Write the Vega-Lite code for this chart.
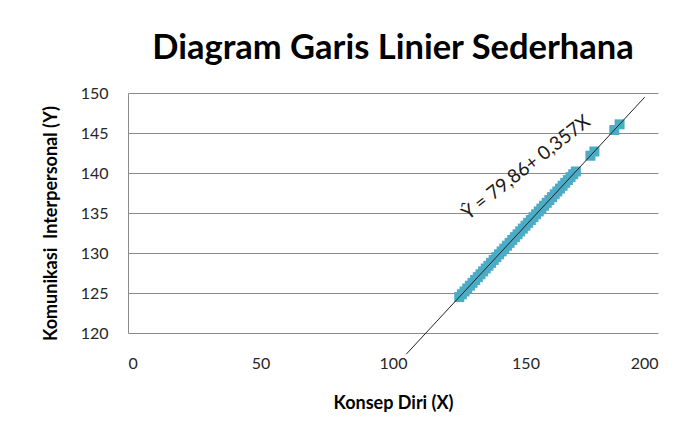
{
  "$schema": "https://vega.github.io/schema/vega-lite/v6.json",
  "width": 530,
  "height": 240,
  "autosize": {"type": "none"},
  "padding": {"left": 128, "top": 93, "right": 28, "bottom": 99},
  "background": "white",
  "config": {"view": {"stroke": null}, "font": "Lato"},
  "title": {"text": "Diagram Garis Linier Sederhana", "fontSize": 34.5, "font": "Lato", "fontWeight": "bold", "color": "#000000", "anchor": "middle", "frame": "group", "offset": 19},
  "datasets": {
    "points": [
      {"x": 125, "y": 124.49}, {"x": 126, "y": 124.84}, {"x": 127, "y": 125.2}, {"x": 128, "y": 125.56}, {"x": 129, "y": 125.91},
      {"x": 130, "y": 126.27}, {"x": 131, "y": 126.63}, {"x": 132, "y": 126.98}, {"x": 133, "y": 127.34}, {"x": 134, "y": 127.7},
      {"x": 135, "y": 128.06}, {"x": 136, "y": 128.41}, {"x": 137, "y": 128.77}, {"x": 138, "y": 129.13}, {"x": 139, "y": 129.48},
      {"x": 140, "y": 129.84}, {"x": 141, "y": 130.2}, {"x": 142, "y": 130.55}, {"x": 143, "y": 130.91}, {"x": 144, "y": 131.27},
      {"x": 145, "y": 131.63}, {"x": 146, "y": 131.98}, {"x": 147, "y": 132.34}, {"x": 148, "y": 132.7}, {"x": 149, "y": 133.05},
      {"x": 150, "y": 133.41}, {"x": 151, "y": 133.77}, {"x": 152, "y": 134.12}, {"x": 153, "y": 134.48}, {"x": 154, "y": 134.84},
      {"x": 155, "y": 135.2}, {"x": 156, "y": 135.55}, {"x": 157, "y": 135.91}, {"x": 158, "y": 136.27}, {"x": 159, "y": 136.62},
      {"x": 160, "y": 136.98}, {"x": 161, "y": 137.34}, {"x": 162, "y": 137.69}, {"x": 163, "y": 138.05}, {"x": 164, "y": 138.41},
      {"x": 165, "y": 138.77}, {"x": 166, "y": 139.12}, {"x": 167, "y": 139.48}, {"x": 168, "y": 139.84}, {"x": 169, "y": 140.19},
      {"x": 174.5, "y": 142.16}, {"x": 176, "y": 142.69}, {"x": 183.5, "y": 145.37}, {"x": 185.5, "y": 146.08}
    ],
    "regline": [{"x": 105, "y": 117.35, "x2": 195, "y2": 149.48}],
    "label": [{"x": 150.2, "y": 140.7, "text": "Ŷ = 79,86+ 0,357X"}]
  },
  "encoding": {
    "x": {"field": "x", "type": "quantitative", "scale": {"domain": [0, 200], "nice": false},
      "axis": {"values": [0, 50, 100, 150, 200], "grid": false, "domain": false, "ticks": false, "labelPadding": 22, "labelFontSize": 16, "labelColor": "#262626", "labelOverlap": false, "title": "Konsep Diri (X)", "titleFontSize": 18, "titleFontWeight": "bold", "titleColor": "#000000", "titlePadding": 23}},
    "y": {"field": "y", "type": "quantitative", "scale": {"domain": [120, 150], "nice": false, "zero": false},
      "axis": {"values": [120, 125, 130, 135, 140, 145, 150], "tickCount": 7, "grid": true, "gridColor": "#8c8c8c", "gridWidth": 1, "domain": true, "domainColor": "#8c8c8c", "ticks": false, "labelPadding": 20, "labelFontSize": 16, "labelColor": "#262626", "labelOverlap": false, "title": "Komunikasi \u00a0Interpersonal (Y)", "titleFontSize": 18, "titleFontWeight": "bold", "titleColor": "#000000", "titlePadding": 20, "titleY": 130}}
  },
  "layer": [
    {
      "data": {"name": "points"},
      "mark": {"type": "square", "size": 100, "color": "#4BACC6", "opacity": 1, "filled": true}
    },
    {
      "data": {"name": "regline"},
      "mark": {"type": "rule", "color": "#222222", "strokeWidth": 1},
      "encoding": {
        "x2": {"field": "x2"},
        "y2": {"field": "y2"}
      }
    },
    {
      "data": {"name": "label"},
      "mark": {"type": "text", "angle": -38, "align": "center", "baseline": "middle", "fontSize": 19, "color": "#1a1a1a"},
      "encoding": {
        "text": {"field": "text"}
      }
    }
  ]
}
